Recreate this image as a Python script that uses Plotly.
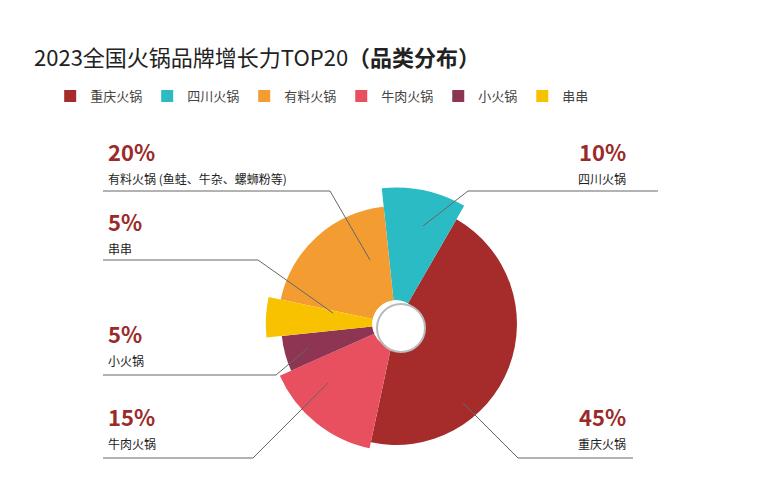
import plotly.graph_objects as go

categories = ["四川火锅", "重庆火锅", "牛肉火锅", "小火锅", "串串", "有料火锅"]
shares = [10, 45, 15, 5, 5, 20]
radii = [146, 126, 134, 118, 138, 122]
colors = ["#2BBBC4", "#A62B2B", "#E9505F", "#8E3553", "#F8C200", "#F39C32"]
legend_order = ["重庆火锅", "四川火锅", "有料火锅", "牛肉火锅", "小火锅", "串串"]

W, H = 767, 500
cx, cy, R = 388, 316, 150
S = 0.93  # visual scale of the polar area

fig = go.Figure()
start = -6
pos = {}
for c, s, r, col in zip(categories, shares, radii, colors):
    w = s * 3.6
    pos[c] = (start + w / 2, w, r, col)
    start += w
for c in legend_order:
    th, w, r, col = pos[c]
    fig.add_trace(go.Barpolar(r=[r], theta=[th], width=[w], name=c,
                              marker=dict(color=col, line=dict(width=0)),
                              base=0))

fig.update_layout(
    width=W, height=H, margin=dict(l=0, r=0, t=0, b=0),
    paper_bgcolor="white",
    font=dict(family="Noto Sans CJK SC", color="#333"),
    polar=dict(
        domain=dict(x=[(cx - R * S) / W, (cx + R * S) / W],
                    y=[(H - cy - R * S) / H, (H - cy + R * S) / H]),
        hole=0.17, bgcolor="rgba(0,0,0,0)",
        radialaxis=dict(range=[0, R], visible=False),
        angularaxis=dict(direction="clockwise", rotation=90, visible=False),
    ),
    legend=dict(orientation="h", x=0.055, y=1 - 88 / H, yanchor="middle",
                font=dict(size=13, color="#444"), itemwidth=30),
    title=dict(text="2023全国火锅品牌增长力TOP20<b>（品类分布）</b>",
               x=26 / W, y=1 - 50 / H, xanchor="left", yanchor="middle",
               font=dict(size=22, color="#222")),
)

hc = 393, 320
fig.add_shape(type="circle", xref="paper", yref="paper",
              x0=(hc[0] - 24) / W, x1=(hc[0] + 24) / W, y0=(H - hc[1] - 24) / H, y1=(H - hc[1] + 24) / H,
              line=dict(color="#BBBBBB", width=2), fillcolor="white")

def px(x, y):
    return x / W, 1 - y / H

labels = [
    ("20%", "有料火锅 (鱼蛙、牛杂、螺蛳粉等)", 98, 143, "left", [(95, 183), (322, 183), (362, 252)]),
    ("5%", "串串", 98, 213, "left", [(95, 252), (250, 252), (325, 305)]),
    ("5%", "小火锅", 98, 325, "left", [(95, 367), (268, 367), (300, 340)]),
    ("15%", "牛肉火锅", 98, 408, "left", [(95, 450), (245, 450), (320, 375)]),
    ("10%", "四川火锅", 620, 143, "right", [(650, 183), (460, 183), (415, 218)]),
    ("45%", "重庆火锅", 620, 408, "right", [(625, 450), (510, 450), (455, 395)]),
]
for pct, name, x, y, side, pts in labels:
    xa = "left" if side == "left" else "right"
    fig.add_annotation(x=x / W, y=1 - y / H, xref="paper", yref="paper", text="<b>" + pct + "</b>",
                       showarrow=False, xanchor=xa, yanchor="middle",
                       font=dict(size=22, color="#9B2A2A"))
    fig.add_annotation(x=x / W, y=1 - (y + 27) / H, xref="paper", yref="paper", text=name,
                       showarrow=False, xanchor=xa, yanchor="middle",
                       font=dict(size=12, color="#222"))
    for (x0, y0), (x1, y1) in zip(pts[:-1], pts[1:]):
        a, b = px(x0, y0)
        c, d = px(x1, y1)
        fig.add_shape(type="line", xref="paper", yref="paper", x0=a, y0=b, x1=c, y1=d,
                      line=dict(color="#666", width=1))

fig.write_html("out.html")
